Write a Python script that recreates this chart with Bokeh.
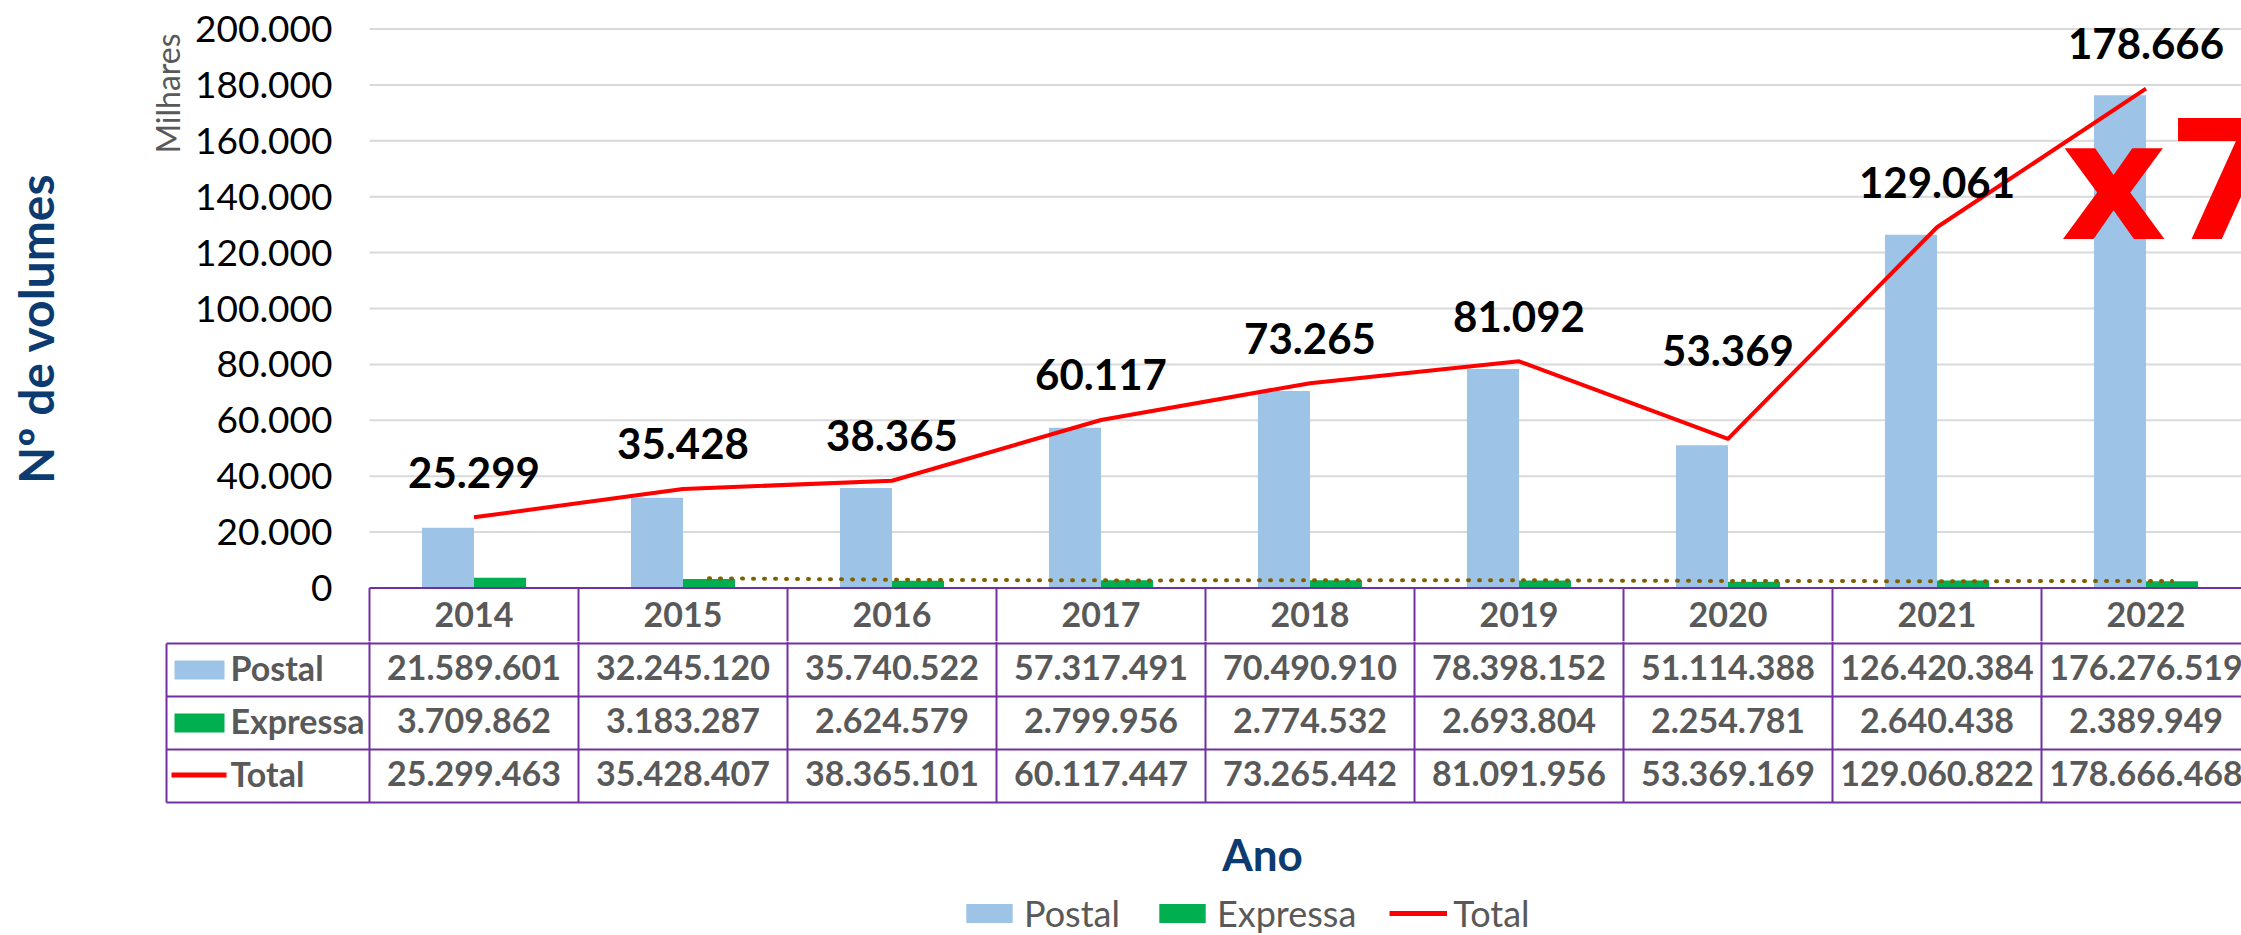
import math
from bokeh.plotting import figure
from bokeh.models import Range1d, FixedTicker, Label, Legend, LegendItem
from bokeh.layouts import column
from bokeh.core.properties import value
from bokeh.embed import file_html
from bokeh.resources import INLINE

# ---------------- data ----------------
years = ["2014", "2015", "2016", "2017", "2018", "2019", "2020", "2021", "2022"]
postal = [21589601, 32245120, 35740522, 57317491, 70490910, 78398152, 51114388, 126420384, 176276519]
expressa = [3709862, 3183287, 2624579, 2799956, 2774532, 2693804, 2254781, 2640438, 2389949]
total = [25299463, 35428407, 38365101, 60117447, 73265442, 81091956, 53369169, 129060822, 178666468]
row_names = ["Postal", "Expressa", "Total"]
y_ticks = [0, 20000, 40000, 60000, 80000, 100000, 120000, 140000, 160000, 180000, 200000]
y_unit_label = "Milhares"
y_title = "Nº de volumes"
x_title = "Ano"
growth_note = "x7"


def pt(v):
    return f"{v:,}".replace(",", ".")


# ---------------- style ----------------
C_POSTAL = "#9DC3E6"
C_EXP = "#00B050"
C_TOTAL = "#FF0000"
C_TREND = "#7F6000"
C_GRID = "#D9D9D9"
C_TABLE = "#7030A0"
C_TEXT = "#595959"
C_NAVY = "#0B3B70"
FONT = "Lato"

# ---------------- layout (px) ----------------
W = 2241
H_TOP = 641
H_TAB = 294
LEFT = 369          # x pixel of the value axis / first category edge
CAT = 209           # pixels per category
Y0 = 587.5          # y pixel of value 0
YTOP = 28.5         # y pixel of top tick
ppu = (Y0 - YTOP) / y_ticks[-1]
n = len(years)
x_start = -LEFT / CAT
x_end = (W - LEFT) / CAT
BW = 0.249
BOFF = BW / 2

y_start = -(H_TOP - Y0) / ppu
y_end = y_ticks[-1] + YTOP / ppu


def px_x(px):
    return (px - LEFT) / CAT


def px_y(py):
    return (Y0 - py) / ppu


pA = figure(width=W, height=H_TOP, x_range=Range1d(x_start, x_end), y_range=Range1d(y_start, y_end),
            output_backend="svg", toolbar_location=None, x_axis_location=None, title=None,
            min_border_left=0, min_border_right=0, min_border_top=0, min_border_bottom=0)
pA.outline_line_color = None
pA.grid.visible = False
ax = pA.yaxis[0]
ax.fixed_location = 0
ax.ticker = FixedTicker(ticks=y_ticks)
ax.major_label_overrides = {t: pt(t) for t in y_ticks}
ax.axis_line_color = None
ax.major_tick_line_color = None
ax.minor_tick_line_color = None
ax.major_tick_out = 0
ax.major_tick_in = 0
ax.major_label_standoff = 37
ax.major_label_text_font = FONT
ax.major_label_text_font_size = "37px"
ax.major_label_text_color = "#000000"

# horizontal gridlines of the plot area
gt = y_ticks[1:]
pA.segment(x0=0, x1=n, y0=gt, y1=gt, line_color=C_GRID, line_width=2)

xs = [i + 0.5 for i in range(n)]
postal_k = [v / 1000 for v in postal]
exp_k = [v / 1000 for v in expressa]
total_k = [v / 1000 for v in total]

pA.vbar(x=[x - BOFF for x in xs], width=BW, top=postal_k, bottom=0,
        fill_color=C_POSTAL, line_color=None)
pA.vbar(x=[x + BOFF for x in xs], width=BW, top=exp_k, bottom=0,
        fill_color=C_EXP, line_color=None)

# 2-period moving average trendline of Expressa
ma_x = [xs[i] + BOFF for i in range(1, n)]
ma_y = [(exp_k[i - 1] + exp_k[i]) / 2 for i in range(1, n)]
pA.line(x=ma_x, y=ma_y, line_color=C_TREND, line_width=4, line_dash="1 10", line_cap="round")

pA.line(x=xs, y=total_k, line_color=C_TOTAL, line_width=4, line_join="round")

lift_px = [45] * n
lift_px[years.index("2020")] = 88
pA.text(x=xs, y=[t + l / ppu for t, l in zip(total_k, lift_px)],
        text=[pt(round(t / 1000)) for t in total],
        text_font=value(FONT), text_font_style="bold", text_font_size="42px",
        text_color="#000000", text_align="center", text_baseline="alphabetic")

# header row of the data table
pA.segment(x0=0, x1=n, y0=0, y1=0, line_color=C_TABLE, line_width=2)
pA.segment(x0=list(range(n + 1)), x1=list(range(n + 1)), y0=0, y1=y_start,
           line_color=C_TABLE, line_width=2)
pA.text(x=xs, y=[-26 / ppu] * n, text=years, text_font=value(FONT), text_font_style="bold",
        text_font_size="34px", text_color=C_TEXT, text_align="center", text_baseline="middle")

# axis titles
pA.text(x=[px_x(167)], y=[px_y(93)], text=[y_unit_label], angle=math.pi / 2,
        text_font=value(FONT), text_font_size="32px", text_color=C_TEXT,
        text_align="center", text_baseline="middle")
pA.text(x=[px_x(35)], y=[px_y(328)], text=[y_title], angle=math.pi / 2,
        text_font=value(FONT), text_font_style="bold", text_font_size="48px", text_color=C_NAVY,
        text_align="center", text_baseline="middle")

pA.add_layout(Label(x=px_x(2060), y=px_y(181), text=growth_note,
                    text_font="DejaVu Sans", text_font_style="bold", text_font_size="165px",
                    text_color=C_TOTAL, text_align="left", text_baseline="alphabetic"))

# ---------------- table body + legend ----------------
pB = figure(width=W, height=H_TAB, x_range=Range1d(x_start, x_end), y_range=Range1d(H_TAB, 0),
            output_backend="svg", toolbar_location=None, x_axis_location=None, y_axis_location=None,
            title=None, min_border=0, min_border_left=0, min_border_right=0,
            min_border_top=0, min_border_bottom=0)
pB.outline_line_color = None
pB.grid.visible = False
for fig in (pA, pB):
    if "frame_align" in fig.properties():
        fig.frame_align = False

T_TOP = 2
ROW_H = 53
KEY_LEFT = px_x(166)
row_lines = [T_TOP + k * ROW_H for k in range(len(row_names) + 1)]
row_c = [T_TOP + (k + 0.5) * ROW_H for k in range(len(row_names))]
TXT_DY = -3

pB.segment(x0=KEY_LEFT, x1=n, y0=row_lines, y1=row_lines, line_color=C_TABLE, line_width=2)
vx = [KEY_LEFT] + list(range(n + 1))
pB.segment(x0=vx, x1=vx, y0=[T_TOP] + [0] * (n + 1), y1=row_lines[-1],
           line_color=C_TABLE, line_width=2)

sw_x = px_x(199)
sw_w = 50 / CAT
r_p = pB.rect(x=sw_x, y=row_c[0], width=sw_w, height=19, fill_color=C_POSTAL, line_color=None)
r_e = pB.rect(x=sw_x, y=row_c[1], width=sw_w, height=19, fill_color=C_EXP, line_color=None)
r_t = pB.line(x=[px_x(171), px_x(226)], y=[row_c[2] - 1] * 2,
              line_color=C_TOTAL, line_width=5)

pB.text(x=[px_x(230)] * 3, y=[c + TXT_DY for c in row_c], text=row_names,
        text_font=value(FONT), text_font_style="bold", text_font_size="34px", text_color=C_TEXT,
        text_align="left", text_baseline="middle")

cell_x, cell_y, cell_t = [], [], []
for k, series in enumerate([postal, expressa, total]):
    for i, v in enumerate(series):
        cell_x.append(xs[i])
        cell_y.append(row_c[k] + TXT_DY)
        cell_t.append(pt(v))
pB.text(x=cell_x, y=cell_y, text=cell_t, text_font=value(FONT), text_font_style="bold",
        text_font_size="34px", text_color=C_TEXT, text_align="center", text_baseline="middle")

pB.add_layout(Label(x=px_x(1262), y=212, text=x_title, text_font=FONT,
                    text_font_style="bold", text_font_size="44px", text_color=C_NAVY,
                    text_align="center", text_baseline="middle"))

leg = Legend(items=[LegendItem(label=row_names[0], renderers=[r_p]),
                    LegendItem(label=row_names[1], renderers=[r_e]),
                    LegendItem(label=row_names[2], renderers=[r_t])],
             orientation="horizontal", location=(960, 0), glyph_width=58, glyph_height=24,
             label_standoff=6, spacing=33, padding=0, margin=0, border_line_color=None,
             background_fill_alpha=0, label_text_font=FONT, label_text_font_size="36px",
             label_text_color=C_TEXT)
pB.add_layout(leg)

layout = column(pA, pB)
open("out.html", "w").write(file_html(layout, INLINE))
